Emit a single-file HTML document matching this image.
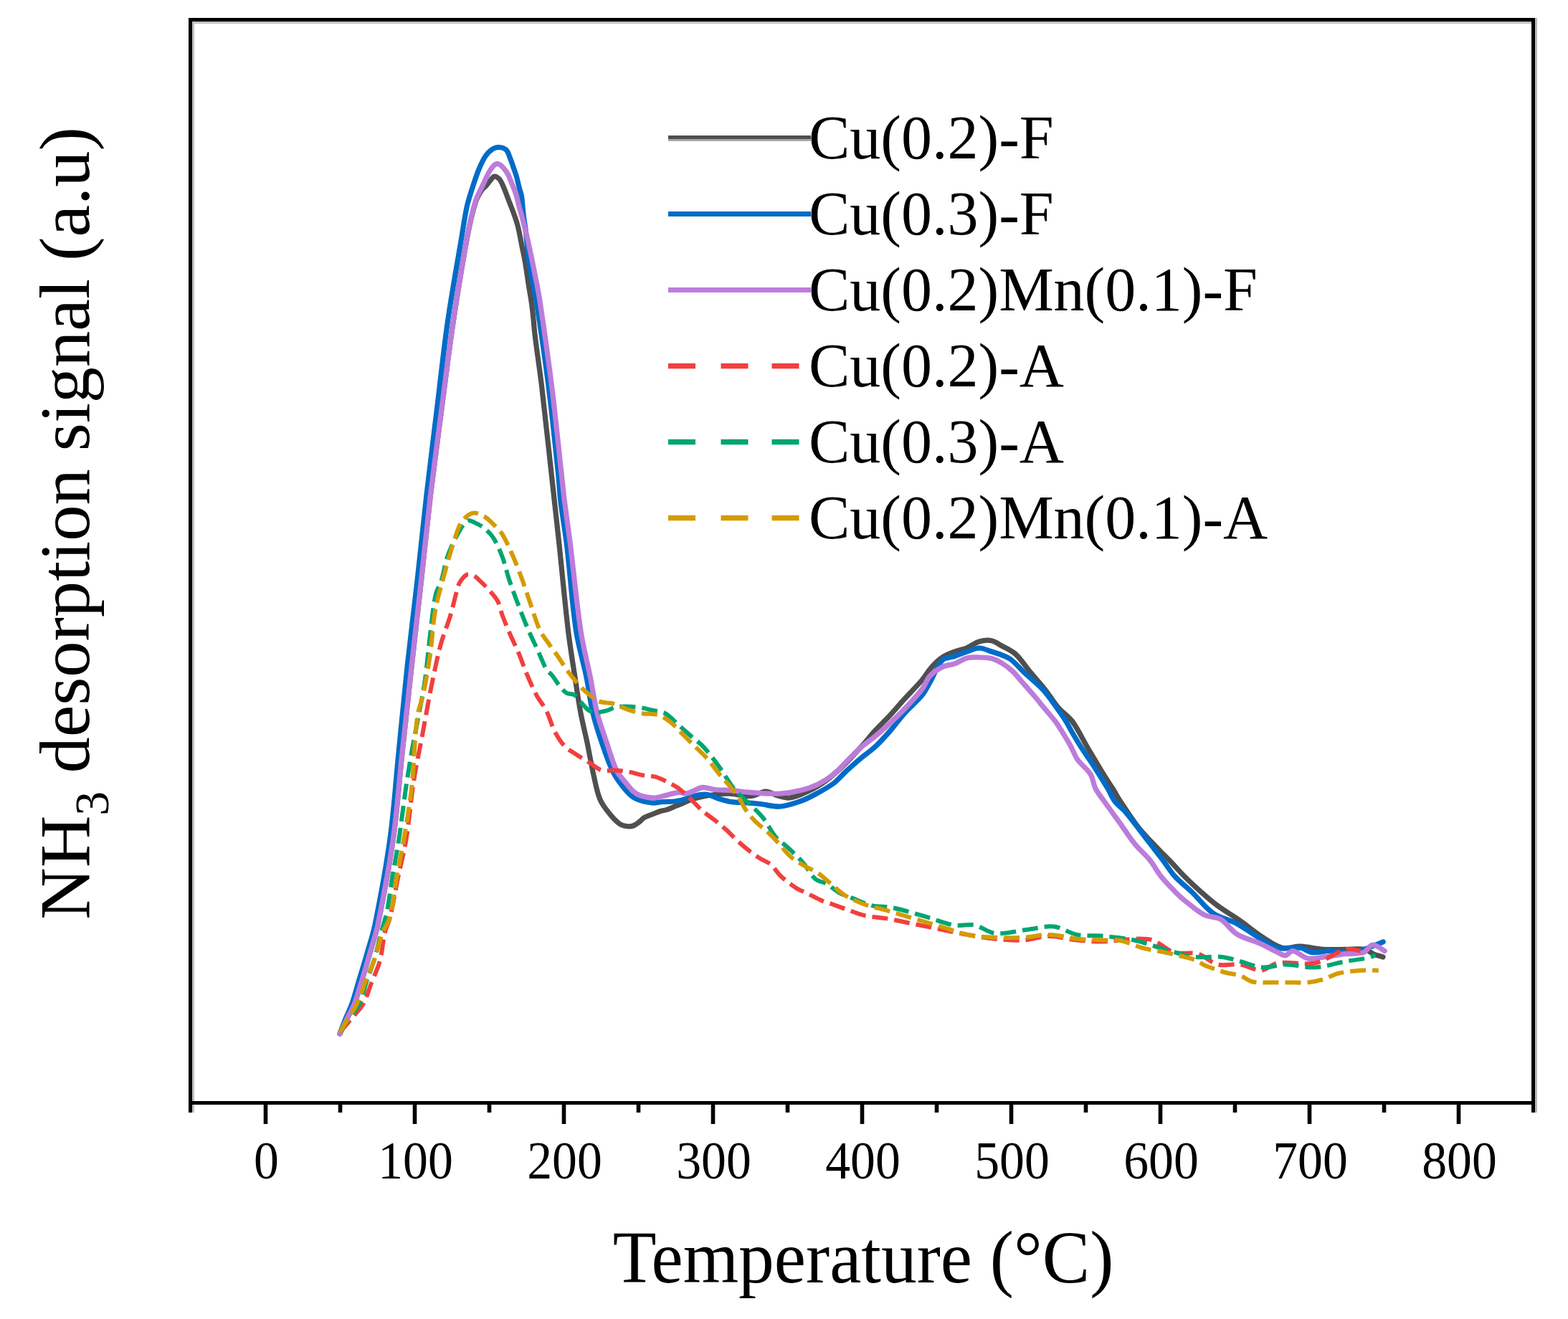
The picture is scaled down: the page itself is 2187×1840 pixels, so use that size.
<!DOCTYPE html>
<html><head><meta charset="utf-8"><title>NH3-TPD</title>
<style>
html,body{margin:0;padding:0;background:#fff;}
body{width:2187px;height:1840px;overflow:hidden;}
svg{display:block;}
text{font-family:"Liberation Serif","Times New Roman",serif;fill:#000;}
.tick text{font-size:73.0px;}
.leg text{font-size:86.0px;}
.xl{font-size:99.5px;}
.yl{font-size:100.5px;}
</style></head><body>
<svg width="2187" height="1840" viewBox="0 0 2187 1840">
<rect width="2187" height="1840" fill="#fff"/>
<g class="curves">
<path d="M474.0 1442.0C477.3 1435.0 480.6 1428.0 484.0 1421.0C487.4 1414.0 491.6 1407.3 494.4 1400.0C498.2 1390.3 500.9 1380.0 504.0 1370.0C508.1 1356.7 512.0 1343.4 515.8 1330.0C519.6 1316.7 524.2 1303.6 527.0 1290.0C535.1 1250.2 542.7 1210.2 548.4 1170.0C554.0 1130.2 556.7 1090.0 561.0 1050.0C565.3 1010.0 569.6 970.0 574.0 930.0C578.4 890.0 583.1 850.0 587.5 810.0C591.9 770.0 595.8 730.0 600.5 690.0C605.3 650.0 610.8 610.0 616.0 570.0C621.3 530.0 626.0 489.9 632.0 450.0C638.0 409.9 644.4 369.8 651.8 330.0C654.9 313.7 658.6 297.3 663.5 281.5C665.3 275.6 668.7 270.1 672.0 265.0C673.5 262.6 676.1 261.1 678.0 259.0C680.4 256.3 682.4 253.3 684.8 250.6C686.3 249.0 687.8 246.0 689.5 246.0C691.8 246.0 695.2 248.3 697.0 250.5C699.7 253.8 701.2 258.4 703.0 262.5C705.7 268.9 708.0 275.5 710.5 282.0C712.7 287.7 715.0 293.3 717.0 299.0C719.0 304.6 721.0 310.2 722.4 316.0C724.5 324.4 725.9 333.1 727.6 341.6C729.3 350.1 731.2 358.5 732.7 367.0C734.6 378.3 736.0 389.7 737.8 401.0C738.8 407.3 740.1 413.6 741.0 420.0C742.0 426.6 742.8 433.3 743.5 440.0C744.5 449.7 745.1 459.4 746.3 469.0C749.2 492.7 752.9 516.3 755.7 540.0C760.4 580.0 764.6 620.0 769.0 660.0C770.5 673.3 771.9 686.7 773.4 700.0C775.6 720.0 777.9 740.0 780.0 760.0C784.2 800.0 787.8 840.1 792.5 880.0C795.1 901.7 798.7 923.4 802.0 945.0C804.5 961.7 806.9 978.4 810.0 995.0C812.6 1008.7 816.1 1022.3 819.0 1036.0C822.1 1051.1 824.6 1066.4 828.0 1081.4C830.6 1092.8 832.5 1104.7 837.0 1115.4C840.1 1122.9 845.6 1129.4 850.7 1135.8C854.7 1140.8 859.2 1145.7 864.3 1149.4C866.9 1151.3 870.5 1152.1 873.7 1152.5C876.7 1152.9 880.2 1153.0 883.0 1152.0C886.4 1150.8 889.4 1148.2 892.4 1146.0C894.6 1144.4 896.2 1141.8 898.6 1140.5C902.4 1138.3 906.9 1137.2 911.0 1135.5C914.2 1134.2 917.3 1132.7 920.5 1131.7C923.5 1130.8 926.8 1130.6 929.8 1129.6C934.1 1128.2 938.1 1126.2 942.3 1124.5C944.9 1123.5 947.5 1122.6 950.0 1121.5C954.0 1119.8 957.9 1117.5 962.0 1116.0C966.7 1114.3 971.7 1113.0 976.6 1112.0C984.3 1110.4 992.2 1108.9 1000.0 1108.0C1006.0 1107.3 1012.0 1106.9 1018.0 1107.2C1028.0 1107.7 1038.2 1111.1 1048.0 1110.5C1054.8 1110.1 1061.4 1104.1 1068.0 1104.0C1073.7 1103.9 1079.2 1108.4 1085.0 1110.0C1090.2 1111.4 1095.8 1113.4 1101.0 1113.0C1107.4 1112.4 1113.9 1109.6 1120.0 1107.0C1128.6 1103.3 1137.2 1099.2 1145.0 1094.0C1154.2 1087.9 1162.8 1080.6 1171.0 1073.0C1181.2 1063.6 1190.6 1053.2 1200.0 1043.0C1207.2 1035.2 1213.7 1026.8 1220.8 1019.0C1227.4 1011.8 1234.6 1005.2 1241.2 998.0C1248.2 990.5 1254.7 982.6 1261.6 975.0C1269.5 966.3 1278.0 958.0 1285.7 949.0C1290.8 943.0 1294.7 935.9 1300.0 930.0C1304.3 925.2 1309.0 920.5 1314.3 917.0C1319.5 913.5 1325.6 911.3 1331.5 909.0C1337.1 906.8 1343.2 906.0 1348.7 903.7C1354.6 901.3 1359.8 896.8 1365.8 895.0C1371.2 893.4 1377.6 892.7 1383.0 893.7C1388.1 894.7 1392.6 898.4 1397.3 901.0C1403.8 904.6 1411.1 907.5 1416.5 912.5C1424.3 919.7 1430.0 929.2 1436.8 937.4C1443.8 945.8 1451.2 953.8 1458.0 962.4C1464.3 970.4 1469.4 979.3 1476.0 987.0C1481.9 993.8 1490.1 998.8 1495.4 1006.0C1503.8 1017.4 1509.8 1030.7 1517.0 1043.0C1524.3 1055.4 1531.5 1067.8 1539.0 1080.0C1543.2 1086.8 1547.8 1093.3 1552.0 1100.0C1555.7 1105.9 1558.9 1112.2 1562.8 1118.0C1570.9 1130.3 1578.8 1142.9 1588.0 1154.4C1596.9 1165.5 1607.2 1175.5 1617.0 1185.9C1621.5 1190.7 1626.4 1195.2 1631.0 1200.0C1638.1 1207.4 1644.7 1215.2 1652.0 1222.5C1659.7 1230.2 1667.8 1237.7 1676.0 1245.0C1683.2 1251.4 1690.5 1257.8 1698.3 1263.5C1708.5 1271.0 1719.5 1277.3 1729.8 1284.5C1740.5 1292.0 1750.4 1300.6 1761.3 1307.6C1770.0 1313.2 1779.0 1320.0 1788.6 1322.3C1796.4 1324.2 1805.4 1319.9 1813.7 1320.2C1824.2 1320.6 1834.7 1323.7 1845.2 1324.4C1855.7 1325.1 1866.2 1324.4 1876.7 1324.4C1885.8 1324.4 1895.3 1322.9 1904.0 1324.4C1908.4 1325.1 1911.8 1329.2 1916.0 1331.0C1920.2 1332.8 1924.7 1333.7 1929.0 1335.0" fill="none" stroke="#4f4f4f" stroke-width="7.2" stroke-linejoin="round" stroke-linecap="round"/>
<path d="M474.0 1442.0C476.7 1435.0 479.2 1427.9 482.0 1421.0C484.9 1413.9 488.5 1407.2 491.0 1400.0C494.5 1390.2 497.0 1380.0 500.0 1370.0C504.0 1356.7 508.2 1343.4 512.0 1330.0C515.8 1316.7 520.3 1303.5 523.0 1290.0C531.0 1250.2 538.5 1210.2 544.0 1170.0C549.5 1130.2 552.0 1090.0 556.0 1050.0C560.0 1010.0 563.7 970.0 568.0 930.0C572.3 890.0 577.5 850.0 582.0 810.0C586.5 770.0 590.4 730.0 595.0 690.0C599.6 650.0 604.6 610.0 609.5 570.0C614.4 530.0 618.5 489.9 624.2 450.0C630.0 409.9 637.3 370.0 644.0 330.0C646.4 315.7 648.3 301.2 651.5 287.0C653.7 277.4 657.0 268.0 660.0 258.6C662.5 251.0 664.9 243.4 668.0 236.0C670.6 229.8 673.3 223.5 677.0 218.0C679.6 214.1 683.2 210.4 687.0 208.0C689.7 206.3 693.5 205.3 696.7 205.5C699.9 205.7 704.0 207.0 706.2 209.3C709.0 212.2 710.1 217.2 711.7 221.2C713.5 225.6 714.9 230.2 716.5 234.7C717.9 238.7 719.4 242.6 720.5 246.6C722.0 251.8 723.0 257.2 724.4 262.5C725.3 266.0 726.8 269.4 727.4 273.0C728.3 277.9 728.5 283.0 729.0 288.0C729.5 293.0 729.9 298.0 730.5 303.0C731.2 308.7 732.3 314.3 733.0 320.0C733.6 325.0 734.0 330.0 734.5 335.0C735.3 343.3 736.0 351.7 737.0 360.0C737.8 366.7 738.8 373.4 740.0 380.0C742.5 393.4 745.9 406.6 748.0 420.0C754.3 459.9 760.1 499.9 765.2 540.0C770.3 579.9 774.3 620.0 778.5 660.0C779.9 673.3 780.4 686.7 782.0 700.0C784.4 720.0 788.1 739.9 790.5 760.0C795.3 799.9 797.6 840.3 803.5 880.0C806.8 901.9 813.6 923.3 818.0 945.0C821.4 961.6 823.1 978.5 827.0 995.0C830.3 1008.9 834.8 1022.5 839.4 1036.0C844.2 1049.8 848.6 1064.1 855.2 1077.0C860.1 1086.6 867.0 1095.5 874.0 1103.7C877.5 1107.8 881.7 1111.8 886.5 1114.0C893.5 1117.2 901.7 1119.1 909.5 1120.0C914.6 1120.6 919.8 1118.8 925.0 1118.5C930.0 1118.2 935.0 1118.5 940.0 1118.0C943.8 1117.6 947.7 1117.0 951.4 1116.0C957.7 1114.3 963.7 1111.4 970.0 1110.0C975.1 1108.8 980.7 1107.6 985.8 1108.3C991.7 1109.1 997.2 1112.6 1003.0 1114.3C1008.6 1116.0 1014.2 1117.8 1020.0 1118.6C1027.6 1119.6 1035.3 1119.2 1043.0 1119.8C1048.7 1120.2 1054.3 1120.9 1060.0 1121.5C1069.5 1122.6 1079.2 1125.7 1088.6 1125.0C1098.2 1124.3 1107.8 1120.8 1117.0 1117.5C1125.0 1114.6 1132.5 1110.6 1140.0 1106.5C1147.9 1102.2 1155.9 1097.9 1163.0 1092.5C1169.2 1087.7 1174.2 1081.4 1180.0 1076.0C1186.7 1069.9 1193.5 1063.8 1200.4 1058.0C1207.1 1052.4 1214.4 1047.5 1220.8 1041.6C1228.0 1034.9 1234.7 1027.4 1241.2 1020.0C1248.3 1011.9 1254.4 1003.0 1261.6 995.0C1269.4 986.3 1278.6 978.9 1286.0 970.0C1290.4 964.6 1293.5 958.1 1297.0 952.0C1302.9 941.8 1306.7 929.1 1314.3 921.0C1318.2 916.9 1325.8 917.5 1331.5 915.5C1337.3 913.5 1342.9 910.9 1348.7 909.0C1354.3 907.1 1360.1 904.0 1365.8 904.0C1371.5 904.0 1377.3 907.2 1383.0 909.0C1387.8 910.5 1392.7 911.9 1397.3 913.8C1401.7 915.6 1406.3 917.2 1410.0 920.0C1416.5 925.0 1421.8 931.7 1427.8 937.4C1436.7 945.8 1446.6 953.4 1454.9 962.4C1462.0 970.0 1467.7 978.9 1473.9 987.3C1478.3 993.4 1482.7 999.6 1486.7 1006.0C1489.3 1010.1 1491.3 1014.5 1493.7 1018.7C1498.1 1026.3 1502.6 1034.0 1507.3 1041.4C1513.2 1050.6 1519.6 1059.4 1525.5 1068.6C1532.2 1079.0 1538.7 1089.4 1545.0 1100.0C1548.5 1105.9 1550.9 1112.6 1555.0 1118.0C1559.4 1123.7 1565.8 1127.8 1570.4 1133.4C1581.8 1147.0 1592.1 1161.4 1603.0 1175.4C1609.3 1183.6 1615.8 1191.7 1622.0 1200.0C1627.6 1207.4 1632.4 1215.6 1638.6 1222.5C1646.0 1230.6 1655.0 1237.3 1663.0 1245.0C1672.8 1254.5 1681.0 1266.3 1692.0 1274.0C1701.9 1280.9 1714.8 1283.0 1725.6 1288.7C1735.8 1294.2 1745.0 1301.7 1755.0 1307.6C1763.9 1312.9 1772.6 1319.9 1782.3 1322.3C1792.1 1324.8 1803.5 1321.0 1813.7 1322.3C1819.5 1323.1 1824.7 1328.0 1830.5 1328.6C1838.7 1329.4 1847.3 1326.5 1855.7 1326.5C1866.2 1326.5 1876.9 1329.4 1887.2 1328.6C1894.4 1328.0 1901.3 1324.7 1908.2 1322.3C1915.3 1319.8 1922.2 1316.7 1929.2 1313.9" fill="none" stroke="#006cc8" stroke-width="7.2" stroke-linejoin="round" stroke-linecap="round"/>
<path d="M474.0 1442.0C477.3 1435.0 480.6 1428.0 484.0 1421.0C487.4 1414.0 491.6 1407.3 494.4 1400.0C498.2 1390.3 500.9 1380.0 504.0 1370.0C508.1 1356.7 512.0 1343.4 515.8 1330.0C519.6 1316.7 524.2 1303.6 527.0 1290.0C535.1 1250.2 542.7 1210.2 548.4 1170.0C554.0 1130.2 556.7 1090.0 561.0 1050.0C565.3 1010.0 569.6 970.0 574.0 930.0C578.4 890.0 583.1 850.0 587.5 810.0C591.9 770.0 595.8 730.0 600.5 690.0C605.3 650.0 610.8 610.0 616.0 570.0C621.3 530.0 626.0 489.9 632.0 450.0C638.0 409.9 644.5 369.9 651.8 330.0C654.8 313.7 658.3 297.3 663.0 281.5C665.4 273.5 669.6 266.1 673.2 258.6C676.8 251.0 679.9 242.8 684.7 236.0C687.0 232.7 691.2 228.0 694.3 228.5C698.4 229.1 703.1 235.1 706.2 239.4C709.4 243.8 711.1 249.4 713.3 254.5C715.5 259.7 717.8 265.0 719.5 270.4C721.2 275.6 722.2 281.0 723.6 286.3C725.0 291.6 726.6 296.8 728.0 302.1C730.4 311.4 732.8 320.7 735.0 330.0C737.3 340.0 739.4 350.0 741.5 360.0C742.9 366.7 744.2 373.3 745.5 380.0C748.1 393.3 751.0 406.6 753.0 420.0C759.0 459.9 764.7 499.9 769.7 540.0C774.7 579.9 778.6 620.0 783.0 660.0C784.5 673.3 785.8 686.7 787.5 700.0C790.0 720.0 793.0 740.0 795.5 760.0C800.5 800.0 804.0 840.2 810.0 880.0C813.3 902.0 819.1 923.6 823.5 945.4C826.8 961.9 828.9 978.7 833.0 995.0C836.5 1008.9 841.6 1022.4 846.2 1036.0C850.6 1048.9 854.0 1062.4 859.8 1074.6C863.0 1081.3 868.7 1086.8 873.4 1092.7C876.4 1096.5 879.4 1100.5 883.0 1103.7C885.7 1106.1 889.0 1108.4 892.4 1109.5C898.3 1111.5 904.9 1113.0 911.1 1113.0C917.3 1113.0 923.6 1110.7 929.8 1109.3C933.2 1108.5 936.6 1107.3 940.0 1106.6C942.8 1106.0 945.7 1105.4 948.5 1105.5C951.3 1105.6 954.2 1107.4 957.0 1107.0C960.7 1106.5 964.4 1104.4 968.0 1103.0C972.0 1101.5 975.9 1098.5 980.0 1098.3C985.5 1098.0 991.3 1100.9 997.0 1101.5C1004.6 1102.3 1012.4 1102.0 1020.0 1102.6C1027.7 1103.2 1035.3 1104.5 1043.0 1105.2C1048.7 1105.8 1054.3 1106.3 1060.0 1106.5C1069.5 1106.9 1079.1 1107.7 1088.6 1107.0C1098.1 1106.3 1107.7 1104.8 1117.0 1102.5C1124.9 1100.6 1132.8 1098.0 1140.0 1094.5C1148.1 1090.5 1155.9 1085.6 1163.0 1080.0C1169.3 1075.1 1174.3 1068.6 1180.0 1063.0C1186.8 1056.3 1193.3 1049.3 1200.4 1043.0C1206.9 1037.3 1214.2 1032.5 1220.8 1027.0C1227.8 1021.2 1234.6 1015.2 1241.2 1009.0C1248.2 1002.5 1255.1 995.9 1261.6 989.0C1270.0 980.1 1278.6 971.2 1286.0 961.5C1290.4 955.8 1292.3 948.2 1297.0 943.0C1301.7 937.8 1308.0 933.5 1314.3 930.4C1319.5 927.8 1325.9 927.8 1331.5 925.8C1337.4 923.7 1342.7 919.5 1348.7 918.0C1354.1 916.6 1360.1 916.9 1365.8 917.0C1371.5 917.1 1377.5 917.2 1383.0 918.6C1388.0 919.9 1392.9 922.3 1397.3 925.0C1402.9 928.4 1408.2 932.5 1413.0 937.0C1417.7 941.4 1421.5 946.7 1425.7 951.5C1428.9 955.1 1432.0 958.8 1435.2 962.4C1438.8 966.6 1442.5 970.7 1446.1 975.0C1449.5 979.0 1452.7 983.2 1456.1 987.3C1461.3 993.6 1466.8 999.6 1471.7 1006.0C1474.8 1010.0 1477.4 1014.4 1480.1 1018.7C1484.8 1026.2 1489.4 1033.7 1493.7 1041.4C1497.0 1047.3 1498.9 1054.0 1502.8 1059.5C1508.0 1066.9 1516.3 1072.4 1521.0 1080.0C1524.7 1085.9 1524.8 1093.8 1528.0 1100.0C1531.3 1106.4 1536.1 1112.1 1540.3 1118.0C1547.4 1128.1 1554.8 1138.1 1562.0 1148.1C1569.0 1157.9 1575.4 1168.2 1583.0 1177.5C1589.4 1185.5 1597.6 1192.0 1604.0 1200.0C1609.7 1207.0 1613.6 1215.4 1619.3 1222.5C1625.6 1230.4 1632.9 1237.7 1640.0 1245.0C1643.8 1248.9 1647.7 1252.6 1652.0 1256.0C1660.9 1263.0 1669.6 1270.9 1679.5 1276.1C1686.4 1279.7 1695.8 1278.5 1702.5 1282.4C1711.2 1287.6 1716.9 1298.0 1725.6 1303.4C1735.1 1309.2 1746.8 1311.4 1757.1 1316.0C1765.7 1319.8 1773.8 1324.6 1782.3 1328.6C1785.7 1330.2 1789.4 1333.1 1792.8 1332.8C1796.4 1332.4 1799.7 1326.0 1803.3 1326.5C1810.2 1327.4 1816.8 1335.6 1824.2 1337.0C1831.5 1338.4 1839.6 1335.8 1847.3 1334.9C1857.1 1333.7 1866.9 1331.8 1876.7 1330.7C1885.1 1329.7 1894.3 1331.2 1901.9 1328.6C1906.9 1326.9 1909.9 1318.3 1914.5 1318.0C1919.7 1317.6 1925.6 1323.7 1931.2 1326.5" fill="none" stroke="#bc7cda" stroke-width="7.2" stroke-linejoin="round" stroke-linecap="round"/>
<path d="M474.0 1440.0C476.0 1437.7 478.0 1435.3 480.0 1433.0C483.7 1428.7 487.4 1424.4 491.0 1420.0C496.4 1413.4 502.7 1407.4 506.8 1400.0C511.9 1390.7 514.6 1380.0 518.5 1370.0C522.4 1360.0 527.3 1350.3 530.0 1340.0C533.4 1327.0 533.9 1313.1 537.0 1300.0C538.6 1293.1 542.4 1286.9 544.0 1280.0C548.4 1261.9 551.2 1243.3 555.0 1225.0C558.8 1206.6 563.7 1188.5 566.7 1170.0C571.0 1143.5 572.9 1116.6 577.0 1090.0C580.5 1067.2 585.5 1044.7 589.7 1022.0C593.5 1001.6 596.9 981.1 601.0 960.8C605.2 940.3 609.2 919.7 614.6 899.5C618.3 885.7 624.1 872.4 628.2 858.7C631.5 847.6 633.9 836.2 637.0 825.0C638.1 820.9 638.9 816.5 641.0 813.0C643.5 808.8 646.9 804.0 650.8 801.9C653.3 800.6 657.5 801.4 660.3 802.7C663.9 804.3 666.8 807.8 669.8 810.6C673.1 813.7 676.4 816.8 679.4 820.2C684.5 826.0 690.3 831.6 694.0 838.3C697.4 844.5 698.3 852.0 700.8 858.7C704.3 867.9 708.1 877.0 712.0 886.0C715.6 894.4 719.9 902.6 723.4 911.0C727.5 920.7 730.7 930.7 734.8 940.4C739.0 950.3 743.3 960.3 748.4 969.8C752.5 977.5 758.4 984.2 762.3 992.0C766.8 1001.0 769.0 1011.2 773.6 1020.2C777.3 1027.4 781.7 1034.7 787.2 1040.6C791.5 1045.3 797.6 1048.4 803.0 1052.0C808.9 1056.0 815.1 1059.5 821.2 1063.3C827.3 1067.1 832.8 1072.6 839.4 1074.6C844.9 1076.3 851.5 1074.2 857.5 1074.6C864.3 1075.0 871.2 1075.7 877.9 1076.9C884.0 1078.0 889.9 1080.3 896.0 1081.4C902.0 1082.5 908.4 1082.1 914.2 1083.7C919.7 1085.2 924.9 1088.0 930.0 1090.5C935.5 1093.2 941.1 1095.9 946.0 1099.5C952.4 1104.2 958.2 1109.9 964.0 1115.4C969.5 1120.5 974.3 1126.4 980.0 1131.3C985.7 1136.2 992.1 1140.3 998.0 1145.0C1003.4 1149.4 1008.8 1153.8 1014.0 1158.5C1018.7 1162.8 1022.9 1167.7 1027.6 1172.0C1032.7 1176.7 1037.9 1181.4 1043.4 1185.7C1048.5 1189.7 1053.8 1193.5 1059.3 1197.0C1064.4 1200.3 1070.6 1202.2 1075.2 1206.1C1080.4 1210.5 1083.7 1217.3 1088.8 1222.0C1095.1 1227.9 1102.0 1233.2 1109.2 1237.9C1114.8 1241.6 1121.3 1244.0 1127.3 1247.0C1133.4 1250.0 1139.3 1253.3 1145.5 1256.0C1150.2 1258.0 1155.2 1259.3 1160.0 1261.0C1166.1 1263.2 1172.0 1265.6 1178.1 1267.7C1187.6 1271.0 1197.0 1275.0 1206.8 1277.3C1216.1 1279.5 1225.9 1279.5 1235.4 1281.1C1248.2 1283.3 1260.8 1286.1 1273.5 1288.7C1283.0 1290.6 1292.6 1292.6 1302.1 1294.5C1318.0 1297.7 1333.8 1301.2 1349.8 1304.0C1362.5 1306.2 1375.2 1308.4 1388.0 1309.7C1400.6 1311.0 1413.5 1312.2 1426.1 1311.6C1438.9 1311.0 1451.6 1305.9 1464.3 1305.9C1477.0 1305.9 1489.6 1310.3 1502.4 1311.6C1514.9 1312.9 1527.5 1313.8 1540.0 1313.5C1554.4 1313.2 1568.7 1310.1 1583.0 1309.7C1591.4 1309.5 1600.4 1309.1 1608.1 1311.8C1618.5 1315.4 1627.0 1325.4 1637.5 1328.6C1648.0 1331.7 1660.5 1327.8 1671.1 1330.7C1680.8 1333.4 1688.6 1343.0 1698.3 1345.4C1708.2 1347.9 1719.5 1344.0 1729.8 1345.4C1739.8 1346.8 1749.6 1354.1 1759.2 1353.7C1767.1 1353.4 1774.1 1344.4 1782.3 1343.3C1799.3 1341.0 1818.0 1346.7 1834.7 1343.3C1849.4 1340.4 1862.3 1328.2 1876.7 1324.4C1883.3 1322.6 1890.7 1325.8 1897.7 1326.5" fill="none" stroke="#f23f3f" stroke-width="6.0" stroke-dasharray="22 9" stroke-linejoin="round"/>
<path d="M474.0 1440.0C475.7 1437.3 477.3 1434.6 479.0 1432.0C481.6 1428.0 484.2 1423.9 487.0 1420.0C491.8 1413.3 498.2 1407.4 501.7 1400.0C506.2 1390.7 507.7 1379.9 511.0 1370.0C514.3 1359.9 518.6 1350.1 521.6 1340.0C525.6 1326.8 528.5 1313.3 532.0 1300.0C534.6 1290.0 538.0 1280.1 540.0 1270.0C543.0 1255.1 544.5 1240.0 547.0 1225.0C550.0 1206.6 553.7 1188.4 556.5 1170.0C560.0 1146.7 562.6 1123.3 566.0 1100.0C568.4 1083.3 571.1 1066.6 574.0 1050.0C576.9 1033.3 580.4 1016.7 583.5 1000.0C586.6 983.3 590.2 966.8 592.6 950.0C595.7 928.4 597.3 906.6 600.0 885.0C602.3 866.6 603.7 848.0 607.5 830.0C609.0 822.7 613.7 816.2 615.9 809.0C619.1 798.6 620.3 787.6 623.8 777.3C627.4 766.9 632.0 756.7 637.3 747.1C641.3 739.8 645.7 730.4 651.6 726.5C654.5 724.6 659.8 728.1 663.5 729.7C667.7 731.5 671.9 733.9 675.4 736.8C680.1 740.7 684.9 745.1 688.1 750.3C693.3 758.6 697.3 768.0 700.8 777.3C704.7 787.6 706.8 798.5 710.3 809.0C714.3 821.1 718.8 833.1 723.4 845.0C727.7 856.4 732.2 867.8 737.0 879.0C741.3 889.0 746.2 898.7 750.7 908.6C754.5 916.9 757.5 925.8 762.0 933.6C763.9 936.9 767.6 939.0 770.0 942.0C773.9 946.9 776.9 952.5 780.9 957.3C783.7 960.7 786.7 964.6 790.4 966.8C793.5 968.7 798.3 967.5 801.3 969.5C805.1 972.1 807.5 976.9 810.8 980.4C814.3 984.1 817.6 988.5 821.7 991.3C824.4 993.1 828.0 994.0 831.2 994.0C836.2 994.0 841.3 992.6 846.2 991.3C850.9 990.0 855.1 986.8 859.8 986.2C868.7 985.1 878.0 985.4 887.0 986.2C894.6 986.9 902.2 989.0 909.7 990.7C915.8 992.0 922.5 992.2 927.8 995.2C934.6 999.0 940.0 1005.7 946.0 1011.0C952.0 1016.3 958.0 1021.7 964.0 1027.0C970.0 1032.3 976.8 1036.9 982.2 1042.9C990.5 1052.0 997.7 1062.3 1004.9 1072.3C1011.3 1081.1 1016.2 1091.0 1023.0 1099.5C1028.3 1106.2 1035.1 1111.6 1041.2 1117.7C1048.8 1125.3 1057.2 1132.2 1063.9 1140.4C1070.8 1148.8 1075.0 1159.3 1082.0 1167.6C1087.1 1173.7 1094.3 1177.9 1100.1 1183.4C1107.1 1190.0 1114.2 1196.7 1120.5 1204.0C1126.5 1210.9 1130.4 1220.1 1137.0 1226.0C1141.2 1229.8 1148.0 1230.1 1153.0 1233.0C1159.0 1236.4 1164.0 1241.7 1170.0 1245.0C1176.3 1248.5 1183.3 1250.8 1190.0 1253.4C1198.9 1256.9 1207.6 1261.2 1216.8 1263.4C1225.4 1265.4 1234.8 1264.2 1243.5 1266.0C1260.0 1269.4 1276.3 1274.6 1292.6 1279.2C1305.4 1282.8 1317.8 1288.4 1330.7 1290.6C1340.0 1292.2 1350.2 1288.8 1359.4 1290.6C1369.3 1292.6 1378.1 1301.2 1388.0 1302.0C1403.5 1303.2 1419.8 1298.2 1435.7 1296.4C1447.1 1295.1 1458.9 1291.2 1470.0 1292.5C1481.1 1293.8 1491.3 1301.9 1502.4 1304.0C1514.6 1306.3 1527.5 1304.7 1540.0 1305.9C1554.4 1307.3 1568.9 1308.7 1583.0 1311.8C1597.2 1314.9 1610.8 1320.5 1624.9 1324.4C1638.8 1328.2 1652.7 1333.0 1666.9 1334.9C1679.3 1336.5 1692.2 1333.7 1704.6 1334.9C1713.2 1335.8 1721.4 1339.0 1729.8 1341.2C1740.3 1343.9 1750.7 1348.8 1761.3 1349.5C1771.7 1350.2 1782.3 1345.4 1792.8 1345.4C1806.7 1345.4 1820.8 1350.2 1834.7 1349.5C1848.8 1348.8 1862.7 1343.7 1876.7 1341.2C1885.8 1339.6 1895.0 1338.8 1904.0 1337.0C1909.0 1336.0 1913.8 1334.2 1918.7 1332.8" fill="none" stroke="#00a572" stroke-width="6.0" stroke-dasharray="22 9" stroke-linejoin="round"/>
<path d="M474.0 1440.0C475.7 1437.3 477.4 1434.7 479.0 1432.0C481.4 1428.0 483.6 1424.0 486.0 1420.0C490.0 1413.3 494.7 1407.0 498.0 1400.0C502.5 1390.3 505.6 1380.0 509.5 1370.0C513.4 1360.0 518.0 1350.2 521.6 1340.0C526.2 1326.8 529.1 1313.0 534.0 1300.0C536.6 1293.0 542.2 1287.2 544.0 1280.0C548.5 1262.2 549.8 1243.3 553.0 1225.0C556.2 1206.6 560.3 1188.4 563.4 1170.0C567.3 1146.7 571.4 1123.4 574.0 1100.0C577.6 1066.8 577.9 1033.1 582.0 1000.0C583.3 989.8 587.9 980.1 590.0 970.0C593.9 951.1 597.3 932.1 600.0 913.0C602.9 892.8 603.4 872.1 607.0 852.0C610.0 834.8 615.4 818.0 619.8 801.0C622.6 790.4 625.6 779.9 628.6 769.4C629.5 766.2 630.6 763.0 631.7 759.8C635.3 749.7 637.5 738.6 642.9 729.7C646.5 723.9 652.8 717.6 658.7 715.8C663.5 714.4 670.1 717.6 675.0 720.2C679.9 722.8 684.0 727.3 688.1 731.3C692.6 735.8 697.5 740.2 700.8 745.6C706.2 754.2 710.1 763.9 714.3 773.3C718.6 783.0 722.5 792.8 726.2 802.7C730.9 815.2 734.9 828.0 739.3 840.6C743.8 853.4 747.3 866.7 753.0 879.0C756.4 886.4 761.9 892.8 766.5 899.5C769.9 904.4 773.6 909.1 777.0 914.0C781.6 920.7 785.7 927.7 790.4 934.2C795.1 940.7 800.1 947.1 805.4 953.2C809.2 957.5 813.2 961.7 817.6 965.4C822.8 969.8 828.1 974.6 834.0 977.7C837.5 979.6 842.0 979.7 846.0 980.4C849.0 981.0 852.3 980.7 855.2 981.6C862.9 984.1 870.2 988.1 877.9 990.7C883.8 992.7 889.9 994.2 896.0 995.2C903.5 996.4 911.7 995.2 918.7 997.5C925.3 999.7 931.4 1004.4 936.9 1008.8C942.7 1013.4 947.4 1019.4 952.7 1024.7C958.0 1030.0 963.3 1035.3 968.6 1040.6C974.7 1046.6 981.1 1052.3 986.8 1058.7C992.5 1065.1 997.2 1072.4 1002.6 1079.0C1007.7 1085.2 1013.4 1091.0 1018.5 1097.3C1023.2 1103.2 1027.8 1109.2 1032.0 1115.4C1035.4 1120.5 1037.6 1126.3 1041.2 1131.3C1045.2 1136.9 1049.9 1142.3 1054.8 1147.2C1059.0 1151.4 1064.1 1154.5 1068.4 1158.5C1073.9 1163.6 1079.2 1168.9 1084.3 1174.4C1090.5 1181.0 1095.6 1188.8 1102.4 1194.8C1108.5 1200.2 1115.8 1204.2 1122.8 1208.4C1128.7 1211.9 1135.4 1214.2 1141.0 1218.0C1147.4 1222.4 1153.0 1228.0 1159.0 1233.0C1165.3 1238.3 1171.1 1244.5 1178.1 1248.7C1187.0 1254.1 1196.9 1258.4 1206.8 1262.0C1216.0 1265.4 1225.9 1267.0 1235.4 1269.7C1248.1 1273.3 1260.8 1277.3 1273.5 1281.1C1286.2 1284.9 1299.0 1288.7 1311.7 1292.5C1324.4 1296.3 1336.9 1301.4 1349.8 1304.0C1362.3 1306.5 1375.2 1307.2 1388.0 1307.8C1400.7 1308.4 1413.4 1308.4 1426.1 1307.8C1438.9 1307.2 1451.6 1303.7 1464.3 1304.0C1477.0 1304.3 1489.6 1308.4 1502.4 1309.7C1514.9 1311.0 1527.5 1311.2 1540.0 1311.6C1547.3 1311.9 1554.9 1310.4 1562.0 1311.8C1572.7 1313.9 1582.8 1319.5 1593.4 1322.3C1603.7 1325.1 1614.5 1326.2 1624.9 1328.6C1639.0 1331.8 1653.3 1334.6 1666.9 1339.0C1671.7 1340.5 1675.4 1344.4 1680.0 1346.5C1684.8 1348.7 1690.0 1350.3 1695.0 1352.0C1700.1 1353.8 1705.3 1355.6 1710.5 1357.0C1716.9 1358.6 1723.6 1358.9 1729.8 1361.0C1735.7 1363.0 1740.6 1368.1 1746.6 1369.5C1754.6 1371.3 1763.4 1370.4 1771.8 1370.5C1782.3 1370.7 1792.8 1370.5 1803.3 1370.5C1810.3 1370.5 1817.3 1371.2 1824.2 1370.5C1831.3 1369.8 1838.4 1368.3 1845.2 1366.3C1852.4 1364.2 1858.9 1359.7 1866.2 1358.0C1876.4 1355.5 1887.2 1354.5 1897.7 1353.7C1906.0 1353.1 1914.4 1353.7 1922.8 1353.7" fill="none" stroke="#d49b00" stroke-width="6.0" stroke-dasharray="22 9" stroke-linejoin="round"/>
</g>
<g class="frame">
<rect x="268" y="30" width="3" height="1522" fill="#bdbdbd"/>
<rect x="268" y="30" width="1868" height="3" fill="#c0c0c0"/>
<rect x="2141" y="25" width="3" height="1527" fill="#b8b8b8"/>
<rect x="263" y="25" width="5" height="1527" fill="#000"/>
<rect x="263" y="25" width="1878" height="5" fill="#000"/>
<rect x="2136" y="25" width="5" height="1527" fill="#000"/>
<rect x="263" y="1536" width="1878" height="5" fill="#000"/>
<rect x="367.7" y="1536" width="5.6" height="32" fill="#000"/>
<rect x="575.7" y="1536" width="5.6" height="32" fill="#000"/>
<rect x="783.7" y="1536" width="5.6" height="32" fill="#000"/>
<rect x="991.7" y="1536" width="5.6" height="32" fill="#000"/>
<rect x="1199.7" y="1536" width="5.6" height="32" fill="#000"/>
<rect x="1407.7" y="1536" width="5.6" height="32" fill="#000"/>
<rect x="1615.7" y="1536" width="5.6" height="32" fill="#000"/>
<rect x="1823.7" y="1536" width="5.6" height="32" fill="#000"/>
<rect x="2031.7" y="1536" width="5.6" height="32" fill="#000"/>
<rect x="471.7" y="1536" width="5.6" height="16" fill="#000"/>
<rect x="679.7" y="1536" width="5.6" height="16" fill="#000"/>
<rect x="887.7" y="1536" width="5.6" height="16" fill="#000"/>
<rect x="1095.7" y="1536" width="5.6" height="16" fill="#000"/>
<rect x="1303.7" y="1536" width="5.6" height="16" fill="#000"/>
<rect x="1511.7" y="1536" width="5.6" height="16" fill="#000"/>
<rect x="1719.7" y="1536" width="5.6" height="16" fill="#000"/>
<rect x="1927.7" y="1536" width="5.6" height="16" fill="#000"/>
</g>
<g class="tick">
<text transform="translate(371.5 1644) scale(0.955 1)" text-anchor="middle">0</text>
<text transform="translate(579.5 1644) scale(0.955 1)" text-anchor="middle">100</text>
<text transform="translate(787.5 1644) scale(0.955 1)" text-anchor="middle">200</text>
<text transform="translate(995.5 1644) scale(0.955 1)" text-anchor="middle">300</text>
<text transform="translate(1203.5 1644) scale(0.955 1)" text-anchor="middle">400</text>
<text transform="translate(1411.5 1644) scale(0.955 1)" text-anchor="middle">500</text>
<text transform="translate(1619.5 1644) scale(0.955 1)" text-anchor="middle">600</text>
<text transform="translate(1827.5 1644) scale(0.955 1)" text-anchor="middle">700</text>
<text transform="translate(2035.5 1644) scale(0.955 1)" text-anchor="middle">800</text>
</g>
<g class="leg">
<rect x="932" y="189.0" width="199" height="5" fill="#4f4f4f"/>
<rect x="932" y="194.0" width="199" height="3" fill="#a8a8a8"/>
<text x="1128" y="221.0">Cu(0.2)-F</text>
<rect x="932" y="295.0" width="199" height="7" fill="#006cc8"/>
<text x="1128" y="327.0">Cu(0.3)-F</text>
<rect x="932" y="401.0" width="199" height="7" fill="#bc7cda"/>
<text x="1128" y="433.0">Cu(0.2)Mn(0.1)-F</text>
<rect x="932.0" y="506.8" width="38.0" height="7.5" fill="#f23f3f"/>
<rect x="1005.5" y="506.8" width="38.0" height="7.5" fill="#f23f3f"/>
<rect x="1076.5" y="506.8" width="38.0" height="7.5" fill="#f23f3f"/>
<text x="1128" y="539.0">Cu(0.2)-A</text>
<rect x="932.0" y="612.8" width="38.0" height="7.5" fill="#00a572"/>
<rect x="1005.5" y="612.8" width="38.0" height="7.5" fill="#00a572"/>
<rect x="1076.5" y="612.8" width="38.0" height="7.5" fill="#00a572"/>
<text x="1128" y="645.0">Cu(0.3)-A</text>
<rect x="932.0" y="718.8" width="38.0" height="7.5" fill="#d49b00"/>
<rect x="1005.5" y="718.8" width="38.0" height="7.5" fill="#d49b00"/>
<rect x="1076.5" y="718.8" width="38.0" height="7.5" fill="#d49b00"/>
<text x="1128" y="751.0">Cu(0.2)Mn(0.1)-A</text>
</g>
<text class="xl" transform="translate(1204.0 1788.5) scale(1 1.035)" text-anchor="middle">Temperature (°C)</text>
<text class="yl" transform="translate(124.0 730.0) rotate(-90)" text-anchor="middle">NH<tspan font-size="68.0px" dy="26.5">3</tspan><tspan dy="-26.5"> desorption signal (a.u)</tspan></text>
</svg>
</body></html>
